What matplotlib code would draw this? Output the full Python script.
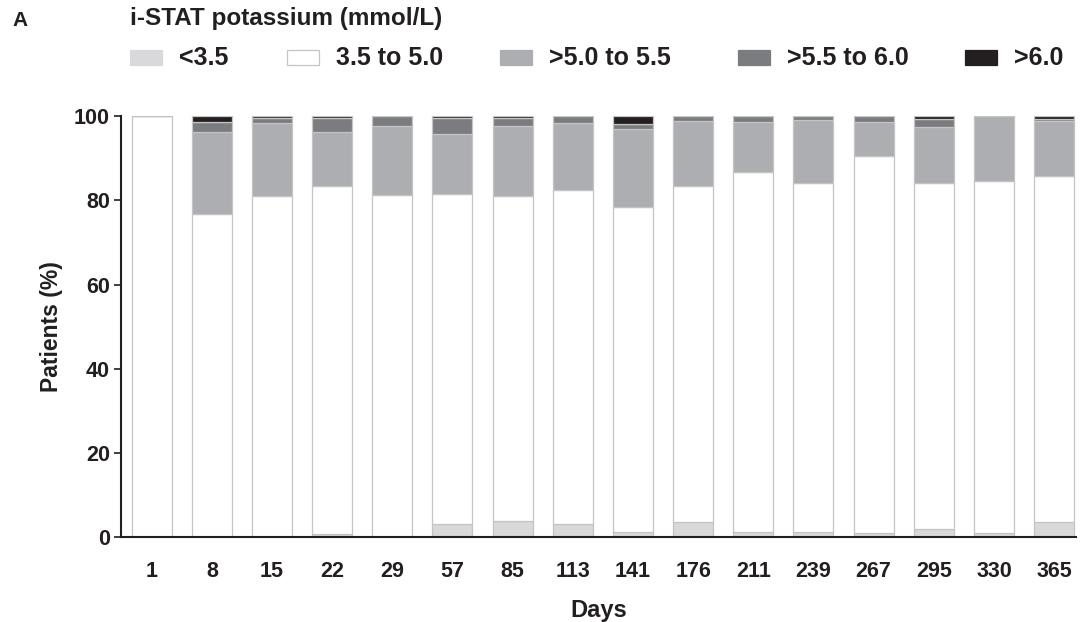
import matplotlib.pyplot as plt
import matplotlib.patches as patches
import numpy as np

plt.rcParams['font.family'] = ['Liberation Sans', 'DejaVu Sans']
plt.rcParams['font.weight'] = 'bold'

### DATA (percent of patients per i-STAT potassium band)

days = ["1", "8", "15", "22", "29", "57", "85", "113", "141", "176", "211", "239", "267", "295", "330", "365"]
labels = ["<3.5", "3.5 to 5.0", ">5.0 to 5.5", ">5.5 to 6.0", ">6.0"]
below_35 = [0, 0, 0, 0.8, 0, 3.3, 3.8, 3.2, 1.4, 3.6, 1.4, 1.2, 1.1, 1.9, 1.1, 3.6]
k_35_50 = [100, 76.7, 81.0, 82.7, 81.2, 78.2, 77.3, 79.3, 77.1, 79.8, 85.2, 83.0, 89.3, 82.3, 83.4, 82.1]
k_50_55 = [0, 19.6, 17.3, 12.8, 16.5, 14.3, 16.6, 15.8, 18.4, 15.3, 12.0, 14.8, 8.1, 13.2, 15.5, 13.0]
k_55_60 = [0, 2.2, 1.3, 3.2, 2.3, 3.7, 1.8, 1.7, 1.2, 1.3, 1.4, 1.0, 1.5, 2.0, 0, 0.7]
above_60 = [0, 1.5, 0.4, 0.5, 0, 0.5, 0.5, 0, 1.9, 0, 0, 0, 0, 0.6, 0, 0.6]

colors = ['#d9d9db', '#ffffff', '#adaeb1', '#7b7c80', '#231f20']
ink = '#231f20'

### PLOT

fig = plt.figure(figsize=(10.85, 6.22), dpi=100)
ax = fig.add_axes([0.1115, 0.136, 0.88, 0.6775])

x = np.arange(len(days))
bottom = np.zeros(len(days))
series = [below_35, k_35_50, k_50_55, k_55_60, above_60]
for vals, col in zip(series, colors):
    vals = np.array(vals)
    ax.bar(x, vals, width=0.665, bottom=bottom, color=col,
           edgecolor='#c4c4c4', linewidth=0.9)
    bottom += vals

ax.set_xlim(-0.51, 15.36)
ax.set_ylim(0, 100)
ax.set_yticks([0, 20, 40, 60, 80, 100])
ax.set_xticks(x)
ax.set_xticklabels(days)
ax.tick_params(axis='x', length=0, pad=17, labelsize=15.5)
ax.tick_params(axis='y', length=5, width=1.2, pad=3, labelsize=15.5, color=ink)
ax.spines['top'].set_visible(False)
ax.spines['right'].set_visible(False)
for side in ['left', 'bottom']:
    ax.spines[side].set_linewidth(1.5)
    ax.spines[side].set_color(ink)
for lab in ax.get_xticklabels() + ax.get_yticklabels():
    lab.set_fontweight('bold')
    lab.set_color(ink)

ax.set_ylabel("Patients (%)", fontsize=16.5, fontweight='bold', labelpad=8, color=ink)
ax.set_xlabel("Days", fontsize=17, fontweight='bold', labelpad=12, color=ink)

### LEGEND (manual, to follow the reference layout)

fig.text(12 / 1085, 1 - 21 / 622, "A", fontsize=15, fontweight='bold', va='center', color=ink)
fig.text(130 / 1085, 1 - 18 / 622, "i-STAT potassium (mmol/L)", fontsize=17.5,
         fontweight='bold', va='center', color=ink)
patch_x = [130, 287, 500, 738, 965]
for px, lab, col in zip(patch_x, labels, colors):
    fig.patches.append(patches.Rectangle((px / 1085, 1 - 65 / 622), 32 / 1085, 15 / 622,
                                         transform=fig.transFigure, facecolor=col,
                                         edgecolor='#c4c4c4' if col == '#ffffff' else col,
                                         linewidth=0.9))
    fig.text((px + 49) / 1085, 1 - 58 / 622, lab, fontsize=18, fontweight='bold',
             va='center', color=ink)

fig.savefig('out.png', dpi=100)
